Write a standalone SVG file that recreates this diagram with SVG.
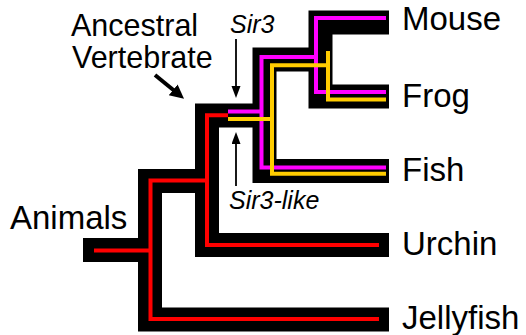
<svg xmlns="http://www.w3.org/2000/svg" width="526" height="335" viewBox="0 0 526 335">
<style>
.bk{fill:none;stroke:#000;stroke-width:24;stroke-linejoin:miter;stroke-linecap:butt}
.rd{fill:none;stroke:#ff0000;stroke-width:4;stroke-linejoin:miter}
.mg{fill:none;stroke:#ff00ff;stroke-width:4;stroke-linejoin:miter}
.yl{fill:none;stroke:#ffcc00;stroke-width:4;stroke-linejoin:miter}
.lbl{font-family:"Liberation Sans",Arial,sans-serif;font-size:33px;fill:#000}
.anc{font-family:"Liberation Sans",Arial,sans-serif;font-size:30.5px;fill:#000}
.gene{font-family:"Liberation Sans",Arial,sans-serif;font-size:25px;font-style:italic;fill:#000}
.thin{stroke:#000;stroke-width:1.8;fill:none}
.thick{stroke:#000;stroke-width:4;fill:none}
</style>
<defs>
<marker id="ah" markerUnits="userSpaceOnUse" markerWidth="14" markerHeight="10" refX="2" refY="4.5" orient="auto">
<path d="M0,0 L12,4.5 L0,9 z" fill="#000"/>
</marker>
<marker id="ahb" markerUnits="userSpaceOnUse" markerWidth="16" markerHeight="16" refX="3" refY="7" orient="auto">
<path d="M0,0 L14,7 L0,14 z" fill="#000"/>
</marker>
</defs>
<g id="connectors">
<g id="outline">
<path class="bk" d="M83,250 H150"/>
<path class="bk" d="M207,181 H150 V319.5 H389"/>
<path class="bk" d="M264.5,115.5 H207 V245 H389"/>
<path class="bk" d="M320.5,59.5 H264.5 V171 H389"/>
<path class="bk" d="M389,22.5 H320.5 V96.5 H389"/>
</g>
<g id="ancestral-lineage">
<path class="rd" d="M94,250.5 H150.5"/>
<path class="rd" d="M207,180.5 H150.5 V319 H379"/>
<path class="rd" d="M228,115.3 H207 V245 H379"/>
</g>
<g id="sir3-lineage">
<path class="mg" d="M386,18 H316 V92 H386"/>
<path class="mg" d="M316,57 H261.5 V167.5 H386"/>
<path class="mg" d="M228,111.5 H261.5"/>
</g>
<g id="sir3-like-lineage">
<path class="yl" d="M228,119 H272"/>
<path class="yl" d="M328,65.3 H272 V173.7 H386"/>
<path class="yl" d="M328,51 V99.5 H386"/>
</g>
<g id="arrows">
<line class="thin" x1="236" y1="39" x2="236" y2="88" marker-end="url(#ah)"/>
<line class="thin" x1="236" y1="186" x2="236" y2="142" marker-end="url(#ah)"/>
<line class="thick" x1="155" y1="75" x2="175.5" y2="91.7" marker-end="url(#ahb)"/>
</g>
</g>
<g id="node-animals"><text class="lbl" x="10" y="229">Animals</text></g>
<g id="node-ancestral-vertebrate"><text class="anc" x="71" y="36">Ancestral</text><text class="anc" x="72" y="68">Vertebrate</text></g>
<g id="node-sir3"><text class="gene" x="230" y="33">Sir3</text></g>
<g id="node-sir3-like"><text class="gene" x="229" y="209">Sir3-like</text></g>
<g id="node-mouse"><text class="lbl" x="402" y="30">Mouse</text></g>
<g id="node-frog"><text class="lbl" x="402" y="107">Frog</text></g>
<g id="node-fish"><text class="lbl" x="402" y="181">Fish</text></g>
<g id="node-urchin"><text class="lbl" x="402" y="255">Urchin</text></g>
<g id="node-jellyfish"><text class="lbl" x="402" y="329">Jellyfish</text></g>
</svg>
